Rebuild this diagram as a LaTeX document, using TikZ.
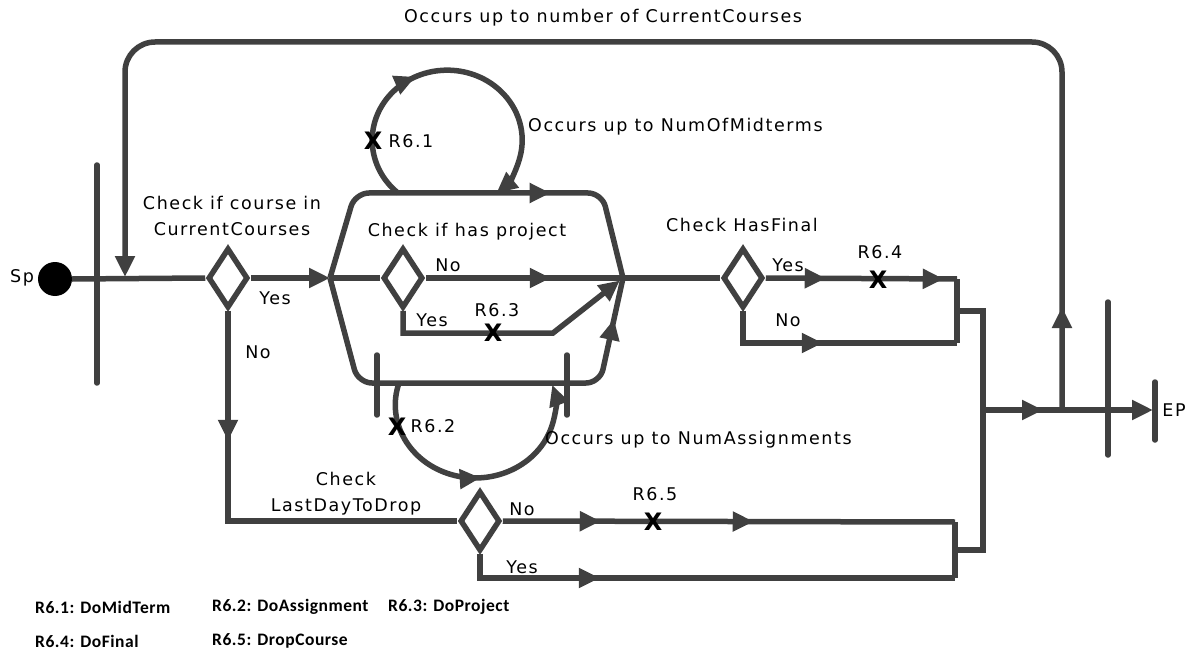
\documentclass[tikz,border=0pt]{standalone}
\usepackage{fontspec}
\setmainfont{DejaVu Sans}[LetterSpace=9]
\newfontfamily\legfont{Carlito}[LetterSpace=3]
\newfontfamily\xfont{DejaVu Sans}
\usetikzlibrary{shapes.geometric,arrows.meta,decorations.markings}
\definecolor{lc}{HTML}{404040}
\tikzset{
  tri/.tip={Triangle[length=21pt,width=19pt]},
  ln/.style={draw=lc,line width=5.5pt},
  barln/.style={draw=lc,line width=5.5pt,line cap=round},
  ma/.style={postaction={decorate,decoration={markings,mark=at position #1 with {\arrow{tri}}}}},
  dia/.style={diamond,draw=lc,line width=5.5pt,fill=white,minimum width=40pt,minimum height=60pt,inner sep=0pt},
  lbl/.style={font=\fontsize{17.5}{26}\selectfont,inner sep=0pt,align=center},
  xm/.style={font=\xfont\bfseries\fontsize{24}{24}\selectfont,inner sep=0pt},
  leg/.style={font=\legfont\bfseries\fontsize{17.5}{18}\selectfont,anchor=west,inner sep=0pt}
}
\begin{document}
\begin{tikzpicture}[x=1pt,y=-1pt]
\useasboundingbox (0,0) rectangle (1187,650);
% ---------- nodes and coordinates
\node[circle,fill=black,minimum size=34pt,inner sep=0pt] (sp) at (55,279) {};
\coordinate (b1t) at (97,165); \coordinate (b1b) at (97,383);
\node[dia] (d1) at (228,278) {};
\coordinate (hexL) at (330,278); \coordinate (hexR) at (623,278);
\coordinate (htl) at (355,193); \coordinate (htr) at (602,193);
\coordinate (hbl) at (358,383); \coordinate (hbr) at (600,383);
\node[dia] (d3) at (403,278) {};
\coordinate (yc1) at (403,333); \coordinate (yc2) at (553,333);
\node[dia] (d4) at (743,278) {};
\coordinate (fy) at (957,279); \coordinate (fn1) at (743,343); \coordinate (fn) at (957,343);
\coordinate (fm) at (957,311); \coordinate (jt) at (983,311); \coordinate (jo) at (983,410);
\coordinate (jb) at (983,550); \coordinate (lm) at (955,550);
\coordinate (l5n) at (955,522); \coordinate (l5y) at (955,578);
\node[dia] (d2) at (480,521) {};
\coordinate (nc) at (228,521); \coordinate (yc) at (480,578);
\coordinate (fork) at (1062,410); \coordinate (tr) at (1062,42); \coordinate (tl) at (125,42);
\coordinate (tin) at (125,279);
\coordinate (b2t) at (1108,302); \coordinate (b2b) at (1108,455);
\coordinate (ept) at (1155,382); \coordinate (epb) at (1155,440); \coordinate (ep) at (1155,410);
\coordinate (hb1t) at (377,355); \coordinate (hb1b) at (377,415);
\coordinate (hb2t) at (567,355); \coordinate (hb2b) at (567,415);
\coordinate (l1s) at (398,193); \coordinate (l2s) at (399,383);
% ---------- bars
\draw[barln] (b1t) -- (b1b);
\draw[barln] (b2t) -- (b2b);
\draw[barln] (ept) -- (epb);
\draw[barln] (hb1t) -- (hb1b);
\draw[barln] (hb2t) -- (hb2b);
% ---------- connectors
\draw[ln] (sp.east) -- (d1.west);
\draw[ln,-{tri}] (d1.east) -- (hexL);
\draw[ln,ma=130pt] (d1.south) -- (nc) -- (d2.west);
\draw[ln,rounded corners=14pt,ma=280pt] (hexL) -- (htl) -- (htr) -- (hexR);
\draw[ln,rounded corners=14pt,ma=-42pt] (hexL) -- (hbl) -- (hbr) -- (hexR);
\draw[ln] (hexL) -- (d3.west);
\draw[ln,ma=125pt] (d3.east) -- (hexR);
\draw[ln,-{tri},shorten >=4pt] (d3.south) -- (yc1) -- (yc2) -- (hexR);
\draw[ln] (hexR) -- (d4.west);
\draw[ln,ma=60pt,ma=178pt] (d4.east) -- (fy);
\draw[ln,ma=112pt] (d4.south) -- (fn1) -- (fn);
\draw[ln] (fy) -- (fn);
\draw[ln] (fm) -- (jt) -- (jb) -- (lm);
\draw[ln] (l5n) -- (l5y);
\draw[ln,ma=98pt,ma=251pt] (d2.east) -- (l5n);
\draw[ln,ma=144pt] (d2.south) -- (yc) -- (l5y);
\draw[ln,ma=60pt,-{tri},shorten >=2pt] (jo) -- (ep);
\draw[ln,rounded corners=30pt,ma=103pt,-{tri},shorten >=2pt] (fork) -- (tr) -- (tl) -- (tin);
\draw[ln,ma=142pt,-{tri}] (l1s) arc[start angle=131,end angle=409,x radius=75,y radius=70];
\draw[ln,ma=148pt,-{tri},shorten >=2pt] (l2s) arc[start angle=197.5,end angle=-17.5,x radius=80,y radius=73];
% ---------- labels
\node[lbl] (tsp) at (22,278) {Sp};
\node[lbl] (ttop) at (603,18) {Occurs up to number of CurrentCourses};
\node[lbl] (td1) at (232,216) {Check if course in\\CurrentCourses};
\node[lbl] (td1y) at (275,298) {Yes};
\node[lbl] (td1n) at (258,352) {No};
\node[lbl] (td3) at (467,232) {Check if has project};
\node[lbl] (td3n) at (448,265) {No};
\node[lbl] (td3y) at (432,320) {Yes};
\node[lbl] (tr63) at (497,310) {R6.3};
\node[xm] (x63) at (493,333) {X};
\node[lbl] (tr61) at (411,141) {R6.1};
\node[xm] (x61) at (373,141) {X};
\node[lbl,anchor=west] (tmid) at (528,127) {Occurs up to NumOfMidterms};
\node[lbl,anchor=west] (tass) at (545,440) {Occurs up to NumAssignments};
\node[lbl] (tr62) at (433,426) {R6.2};
\node[xm] (x62) at (397,427) {X};
\node[lbl] (td4) at (742,225) {Check HasFinal};
\node[lbl] (td4y) at (788,265) {Yes};
\node[lbl] (td4n) at (788,320) {No};
\node[lbl] (tr64) at (880,252) {R6.4};
\node[xm] (x64) at (878,280) {X};
\node[lbl] (td2) at (346,494) {Check\\LastDayToDrop};
\node[lbl] (td2n) at (522,509) {No};
\node[lbl] (td2y) at (522,567) {Yes};
\node[lbl] (tr65) at (655,494) {R6.5};
\node[xm] (x65) at (653,522) {X};
\node[lbl] (tep) at (1174,410) {EP};
% ---------- legend
\node[leg] (g1) at (35,607) {R6.1: DoMidTerm};
\node[leg] (g2) at (212,607) {R6.2: DoAssignment};
\node[leg] (g3) at (388,607) {R6.3: DoProject};
\node[leg] (g4) at (35,641) {R6.4: DoFinal};
\node[leg] (g5) at (212,641) {R6.5: DropCourse};
\end{tikzpicture}
\end{document}
